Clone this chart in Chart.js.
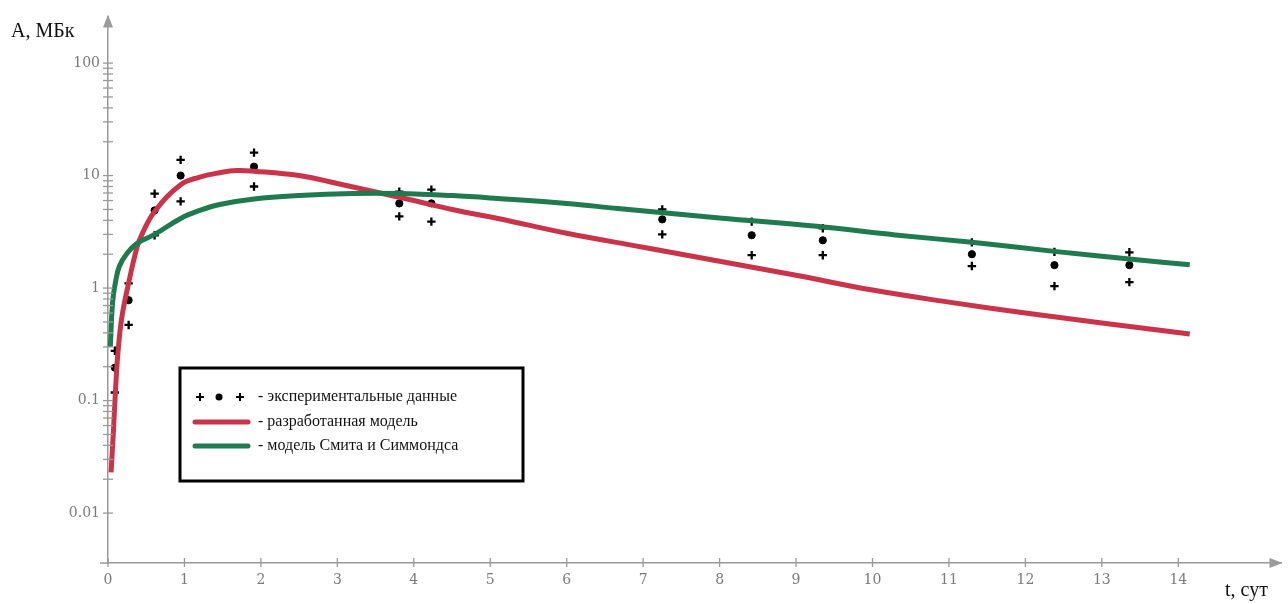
<!DOCTYPE html>
<html>
<head>
<meta charset="utf-8">
<script src="https://cdn.jsdelivr.net/npm/chart.js@4/dist/chart.umd.min.js"></script>
<style>
  html, body { margin: 0; padding: 0; background: #fff; }
  #wrap { width: 1288px; height: 604px; }
</style>
</head>
<body>
<div id="wrap"><canvas id="chart"></canvas></div>
<script>
// experimental data: time (days), mean value and upper/lower crosses (MBq)
const expT = [0.09, 0.27, 0.61, 0.95, 1.91, 3.81, 4.23, 7.25, 8.42, 9.35, 11.3, 12.38, 13.36]
const expMean = [0.196, 0.78, 4.9, 10, 12, 5.66, 5.66, 4.08, 2.95, 2.66, 2.0, 1.6, 1.6]
const expHigh = [0.277, 1.1, 6.9, 13.8, 16, 7.2, 7.5, 5.0, 3.9, 3.4, 2.55, 2.1, 2.08]
const expLow = [0.118, 0.47, 2.95, 5.9, 8.0, 4.34, 3.9, 3.0, 1.96, 1.96, 1.57, 1.04, 1.13]

// developed model (red)
const redT = [0.04, 0.07, 0.1, 0.13, 0.18, 0.27, 0.38, 0.45, 0.61, 0.95, 1.2, 1.46, 1.68, 1.91, 2.5, 3.0, 3.5, 4.0, 4.5, 5.1, 6, 7, 8, 9, 10, 11, 12, 13, 14.15]
const redA = [0.023, 0.052, 0.13, 0.266, 0.543, 1.11, 2.31, 3.07, 4.8, 8.3, 9.7, 10.6, 11.1, 10.95, 10.0, 8.5, 7.14, 6.0, 5.0, 4.16, 3.07, 2.31, 1.73, 1.3, 0.96, 0.75, 0.6, 0.49, 0.39]

// Smith & Simmonds model (green)
const greenT = [0.03, 0.06, 0.1, 0.15, 0.25, 0.38, 0.61, 0.95, 1.2, 1.46, 1.91, 2.5, 3.2, 3.8, 4.5, 5.1, 6, 6.67, 8, 9.27, 10.3, 11.3, 12.38, 13.36, 14.15]
const greenA = [0.3, 0.74, 1.15, 1.57, 2.04, 2.5, 3.0, 4.16, 4.9, 5.53, 6.19, 6.64, 6.93, 6.93, 6.64, 6.26, 5.65, 5.1, 4.2, 3.54, 2.97, 2.55, 2.12, 1.81, 1.61]

const xTickValues = [0, 1, 2, 3, 4, 5, 6, 7, 8, 9, 10, 11, 12, 13, 14]
const yTickLabels = ['0.01', '0.1', '1', '10', '100']

const legendLabels = ['- экспериментальные данные', '- разработанная модель', '- модель Смита и Симмондса']
const yTitle = 'А, МБк'
const xTitle = 't, сут'

const RED = '#c9344a'
const GREEN = '#1f7a50'
const AXIS = '#9a9a9a'

const pts = (xs, ys) => xs.map((x, i) => ({ x: x, y: ys[i] }))

// log ticks 0.01 .. 100 with minors
const yTickValues = []
for (let d = -2; d <= 1; d++) {
  for (let m = 1; m <= 9; m++) yTickValues.push(Number((m * Math.pow(10, d)).toPrecision(3)))
}
yTickValues.push(100)

const extras = {
  id: 'extras',
  afterDraw(chart) {
    const ctx = chart.ctx
    const xs = chart.scales.x
    const ys = chart.scales.y
    const area = chart.chartArea
    const x0 = xs.getPixelForValue(0)
    const yb = area.bottom
    ctx.save()
    // tick marks crossing the axes
    ctx.strokeStyle = AXIS
    ctx.lineWidth = 1.3
    ys.ticks.forEach(t => {
      const y = ys.getPixelForValue(t.value)
      ctx.beginPath()
      ctx.moveTo(x0 - 5, y)
      ctx.lineTo(x0 + 5, y)
      ctx.stroke()
    })
    xs.ticks.forEach(t => {
      const x = xs.getPixelForValue(t.value)
      ctx.beginPath()
      ctx.moveTo(x, yb - 5)
      ctx.lineTo(x, yb + 4)
      ctx.stroke()
    })
    // extend x axis a bit to the left
    ctx.lineWidth = 1.5
    ctx.beginPath()
    ctx.moveTo(x0 - 8, yb)
    ctx.lineTo(x0, yb)
    ctx.stroke()
    // arrow heads
    ctx.fillStyle = AXIS
    ctx.beginPath()
    ctx.moveTo(x0, area.top - 2)
    ctx.lineTo(x0 - 5, area.top + 11)
    ctx.lineTo(x0 + 5, area.top + 11)
    ctx.closePath()
    ctx.fill()
    ctx.beginPath()
    ctx.moveTo(area.right + 1, yb)
    ctx.lineTo(area.right - 12, yb - 5)
    ctx.lineTo(area.right - 12, yb + 5)
    ctx.closePath()
    ctx.fill()

    // axis titles
    ctx.fillStyle = '#111'
    ctx.font = '20px "Liberation Serif", serif'
    ctx.textAlign = 'left'
    ctx.textBaseline = 'alphabetic'
    ctx.fillText(yTitle, 11, 37)
    ctx.fillText(xTitle, 1225, 596)

    // legend box
    const bx = 180, by = 368, bw = 343, bh = 113
    ctx.fillStyle = '#fff'
    ctx.fillRect(bx, by, bw, bh)
    ctx.strokeStyle = '#000'
    ctx.lineWidth = 3
    ctx.strokeRect(bx, by, bw, bh)
    const rows = [397, 422, 446]
    // markers: cross, dot, cross
    ctx.fillStyle = '#000'
    ctx.strokeStyle = '#000'
    ctx.lineWidth = 2
    ;[200, 240].forEach(cx => {
      ctx.beginPath()
      ctx.moveTo(cx - 4, rows[0]); ctx.lineTo(cx + 4, rows[0])
      ctx.moveTo(cx, rows[0] - 4); ctx.lineTo(cx, rows[0] + 4)
      ctx.stroke()
    })
    ctx.beginPath()
    ctx.arc(219, rows[0], 3.5, 0, Math.PI * 2)
    ctx.fill()
    ctx.lineCap = 'round'
    ctx.lineWidth = 5
    ctx.strokeStyle = RED
    ctx.beginPath(); ctx.moveTo(195, rows[1]); ctx.lineTo(248, rows[1]); ctx.stroke()
    ctx.strokeStyle = GREEN
    ctx.beginPath(); ctx.moveTo(195, rows[2]); ctx.lineTo(248, rows[2]); ctx.stroke()
    ctx.fillStyle = '#111'
    ctx.font = '16px "Liberation Serif", serif'
    ctx.textBaseline = 'middle'
    legendLabels.forEach((s, i) => ctx.fillText(s, 258, rows[i]))
    ctx.restore()
  }
}

const tickFont = { family: '"DejaVu Serif", serif', size: 14 }

new Chart(document.getElementById('chart'), {
  type: 'scatter',
  data: {
    datasets: [
      {
        label: 'модель Смита и Симмондса',
        data: pts(greenT, greenA),
        showLine: true,
        borderColor: GREEN,
        borderWidth: 5,
        pointRadius: 0,
        tension: 0.4,
        order: 0
      },
      {
        label: 'разработанная модель',
        data: pts(redT, redA),
        showLine: true,
        borderColor: RED,
        borderWidth: 5,
        pointRadius: 0,
        tension: 0.4,
        order: 1
      },
      {
        label: 'среднее',
        data: pts(expT, expMean),
        pointStyle: 'circle',
        pointRadius: 3.6,
        backgroundColor: '#000',
        borderColor: '#000',
        order: 2
      },
      {
        label: 'верх',
        data: pts(expT, expHigh),
        pointStyle: 'cross',
        pointRadius: 4.2,
        borderWidth: 2.3,
        borderColor: '#000',
        order: 2
      },
      {
        label: 'низ',
        data: pts(expT, expLow),
        pointStyle: 'cross',
        pointRadius: 4.2,
        borderWidth: 2.3,
        borderColor: '#000',
        order: 2
      }
    ]
  },
  options: {
    responsive: true,
    maintainAspectRatio: false,
    animation: false,
    layout: { padding: { top: 13, right: 1, bottom: 0, left: 0 } },
    plugins: { legend: { display: false }, tooltip: { enabled: false } },
    scales: {
      x: {
        type: 'linear',
        min: 0,
        max: 15.35,
        bounds: 'data',
        afterBuildTicks: s => { s.ticks = xTickValues.map(v => ({ value: v })) },
        afterFit: s => { s.height = 41 },
        grid: { display: false, drawTicks: false },
        border: { display: true, color: AXIS, width: 1.5 },
        ticks: { color: '#7a7a7a', font: tickFont, padding: 9, autoSkip: false, maxRotation: 0 }
      },
      y: {
        type: 'logarithmic',
        min: 0.0036,
        max: 260,
        bounds: 'data',
        afterBuildTicks: s => { s.ticks = yTickValues.map(v => ({ value: v })) },
        afterFit: s => { s.width = 108 },
        grid: { display: false, drawTicks: false },
        border: { display: true, color: AXIS, width: 1.5 },
        ticks: {
          color: '#7a7a7a',
          font: tickFont,
          padding: 8,
          autoSkip: false,
          callback: v => {
            const lab = yTickLabels.find(l => Math.abs(Number(l) - v) < 1e-9)
            return lab || ''
          }
        }
      }
    }
  },
  plugins: [extras]
})
</script>
</body>
</html>
